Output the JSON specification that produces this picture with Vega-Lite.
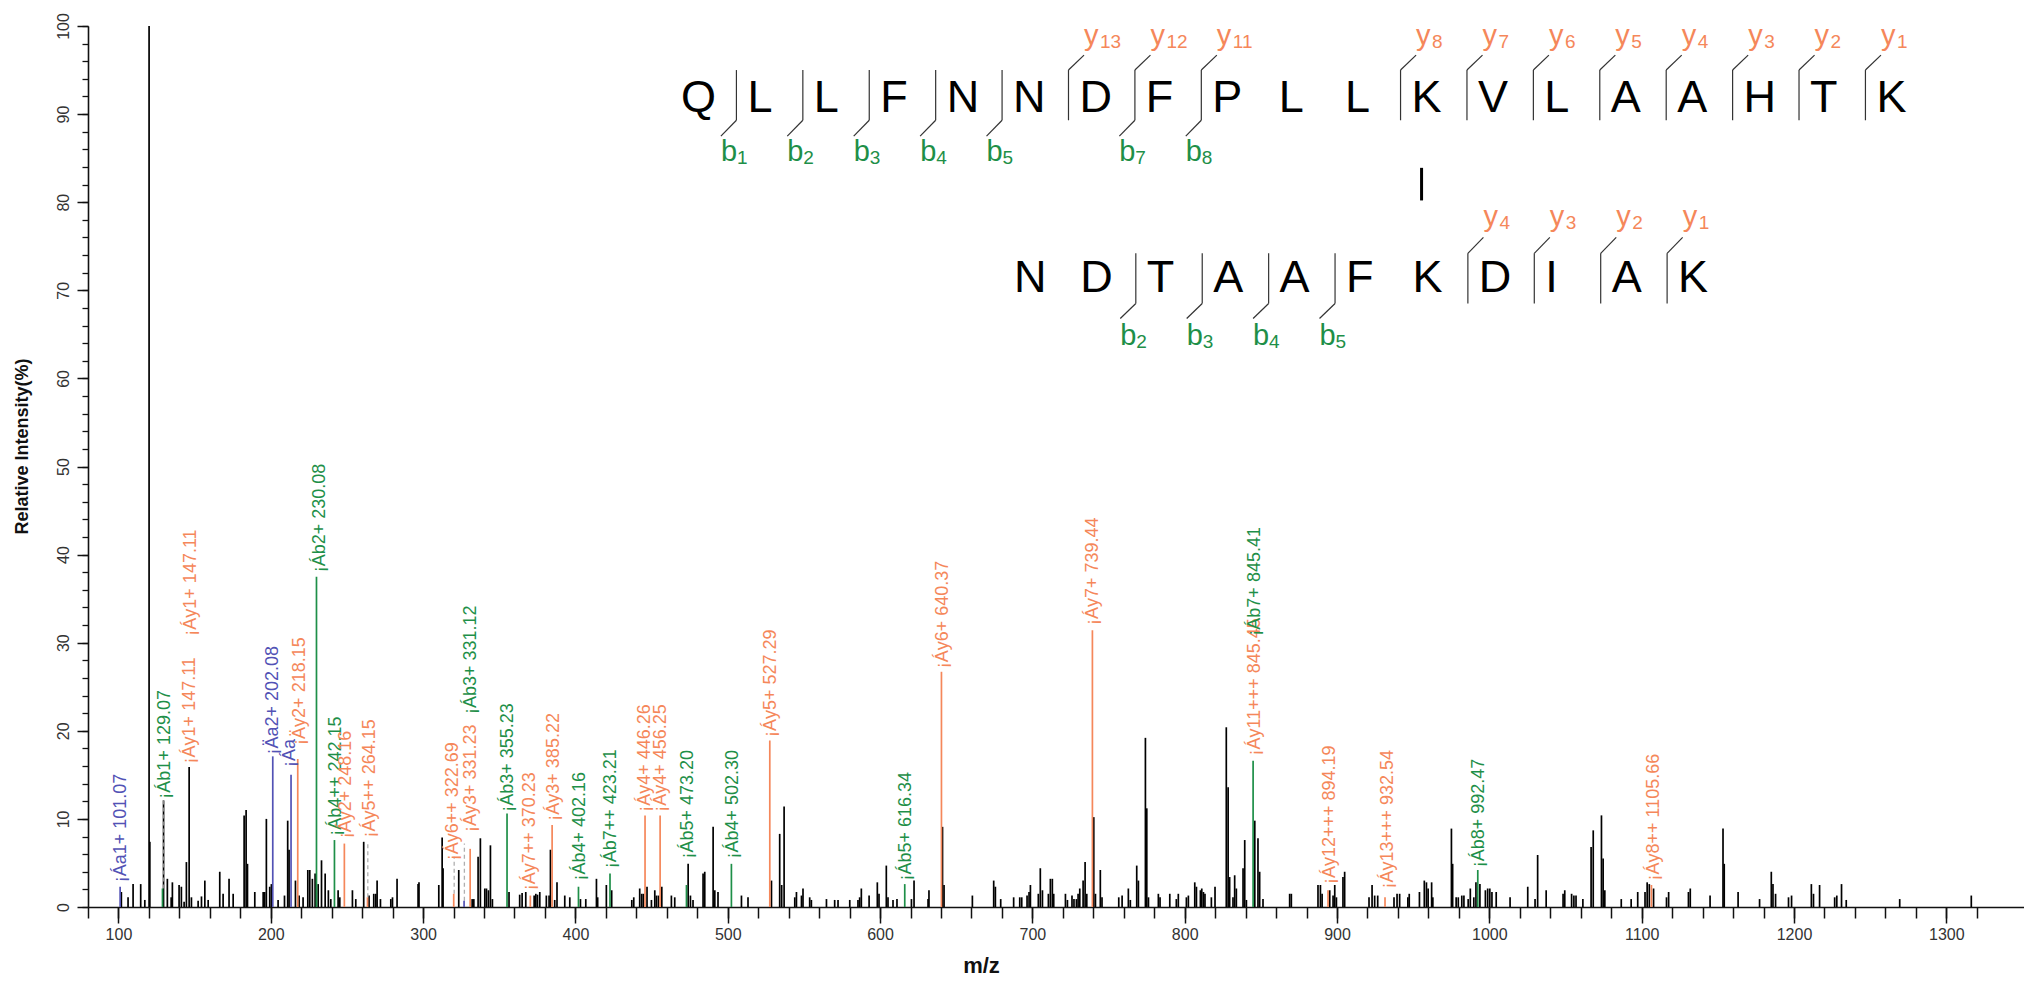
{
  "$schema": "https://vega.github.io/schema/vega-lite/v6.json",
  "width": 1936,
  "height": 881,
  "autosize": {"type": "none"},
  "padding": {"left": 88, "top": 26, "right": 0, "bottom": 74},
  "background": "white",
  "config": {"view": {"stroke": null}, "font": "Liberation Sans", "axis": {"grid": false}},
  "resolve": {"axis": {"x": "independent", "y": "independent"}},
  "datasets": {
    "peaks": [
      {"mz":101.9,"i":1.7},{"mz":106.3,"i":1.1},{"mz":109.6,"i":2.6},{"mz":114.6,"i":2.6},{"mz":117.3,"i":0.8},{"mz":120.1,"i":100},{"mz":120.6,"i":7.4},{"mz":129.6,"i":12.1},{"mz":132.1,"i":3.2},{"mz":134.6,"i":1.1},{"mz":135.4,"i":2.8},{"mz":139.8,"i":2.5},{"mz":141.3,"i":2.3},{"mz":143.1,"i":0.6},{"mz":144.6,"i":5.1},{"mz":146.4,"i":15.9},{"mz":147.9,"i":1.1},{"mz":152.3,"i":0.7},{"mz":154.5,"i":1.2},{"mz":156.7,"i":3.0},{"mz":158.9,"i":0.8},{"mz":166.5,"i":4.0},{"mz":168.7,"i":1.5},{"mz":172.6,"i":3.2},{"mz":175.3,"i":1.5},{"mz":182.5,"i":10.4},{"mz":183.8,"i":11.0},{"mz":184.7,"i":4.9},{"mz":189.5,"i":1.7},{"mz":195.0,"i":1.7},{"mz":196.0,"i":1.7},{"mz":197.1,"i":10.0},{"mz":199.3,"i":2.3},{"mz":200.4,"i":2.6},{"mz":204.8,"i":0.8},{"mz":209.0,"i":1.3},{"mz":211.1,"i":9.8},{"mz":212.0,"i":6.5},{"mz":216.2,"i":3.0},{"mz":218.6,"i":1.3},{"mz":221.2,"i":1.1},{"mz":224.3,"i":4.2},{"mz":225.6,"i":4.2},{"mz":227.3,"i":3.2},{"mz":229.1,"i":3.8},{"mz":231.1,"i":2.6},{"mz":233.3,"i":5.3},{"mz":235.7,"i":3.8},{"mz":237.8,"i":1.9},{"mz":239.4,"i":0.9},{"mz":244.2,"i":1.9},{"mz":245.3,"i":1.1},{"mz":253.6,"i":1.9},{"mz":255.8,"i":0.9},{"mz":261.0,"i":7.4},{"mz":264.5,"i":1.3},{"mz":267.6,"i":1.5},{"mz":268.9,"i":1.5},{"mz":269.8,"i":3.0},{"mz":272.0,"i":0.9},{"mz":278.8,"i":0.9},{"mz":279.9,"i":1.1},{"mz":282.9,"i":3.2},{"mz":296.7,"i":2.6},{"mz":297.3,"i":2.8},{"mz":310.3,"i":2.5},{"mz":312.5,"i":7.9},{"mz":313.1,"i":4.4},{"mz":323.4,"i":4.2},{"mz":332.2,"i":0.9},{"mz":333.3,"i":0.9},{"mz":336.1,"i":5.7},{"mz":337.6,"i":7.8},{"mz":340.5,"i":2.1},{"mz":341.6,"i":2.1},{"mz":342.9,"i":1.9},{"mz":344.2,"i":7.0},{"mz":345.5,"i":0.9},{"mz":356.4,"i":1.7},{"mz":363.4,"i":1.4},{"mz":365.0,"i":1.6},{"mz":367.4,"i":1.7},{"mz":372.9,"i":1.3},{"mz":374.0,"i":1.5},{"mz":375.1,"i":1.4},{"mz":376.6,"i":1.7},{"mz":380.9,"i":1.3},{"mz":382.7,"i":1.3},{"mz":383.6,"i":6.5},{"mz":386.4,"i":0.8},{"mz":387.9,"i":2.8},{"mz":393.0,"i":1.3},{"mz":396.3,"i":1.1},{"mz":403.3,"i":0.9},{"mz":406.8,"i":0.9},{"mz":413.8,"i":3.2},{"mz":414.6,"i":1.1},{"mz":420.3,"i":2.5},{"mz":423.8,"i":1.9},{"mz":437.0,"i":0.8},{"mz":438.3,"i":1.1},{"mz":442.2,"i":2.1},{"mz":443.5,"i":1.5},{"mz":444.6,"i":1.5},{"mz":447.0,"i":2.3},{"mz":449.9,"i":0.8},{"mz":452.1,"i":1.9},{"mz":453.2,"i":1.3},{"mz":454.5,"i":1.3},{"mz":456.7,"i":2.3},{"mz":463.0,"i":1.3},{"mz":465.2,"i":1.1},{"mz":474.0,"i":4.9},{"mz":475.5,"i":1.3},{"mz":477.2,"i":0.8},{"mz":483.8,"i":3.8},{"mz":484.9,"i":4.0},{"mz":490.4,"i":9.1},{"mz":491.5,"i":1.9},{"mz":493.6,"i":1.7},{"mz":509.0,"i":1.3},{"mz":513.3,"i":1.1},{"mz":528.7,"i":3.0},{"mz":534.1,"i":8.3},{"mz":535.4,"i":2.5},{"mz":537.0,"i":11.4},{"mz":544.0,"i":1.1},{"mz":545.1,"i":1.7},{"mz":548.4,"i":1.3},{"mz":549.4,"i":2.1},{"mz":553.8,"i":1.1},{"mz":554.9,"i":0.8},{"mz":564.8,"i":0.9},{"mz":570.2,"i":0.8},{"mz":572.4,"i":0.8},{"mz":580.1,"i":0.8},{"mz":585.5,"i":0.8},{"mz":586.6,"i":1.1},{"mz":587.7,"i":2.1},{"mz":592.8,"i":1.3},{"mz":598.2,"i":2.8},{"mz":599.3,"i":1.5},{"mz":604.1,"i":4.7},{"mz":605.2,"i":1.1},{"mz":608.5,"i":0.8},{"mz":611.1,"i":0.9},{"mz":620.6,"i":0.9},{"mz":622.3,"i":3.0},{"mz":631.5,"i":0.9},{"mz":632.1,"i":1.9},{"mz":641.0,"i":9.1},{"mz":642.0,"i":2.5},
      {"mz":660.6,"i":1.3},{"mz":674.6,"i":3.0},{"mz":675.7,"i":2.3},{"mz":679.2,"i":0.9},{"mz":687.7,"i":1.1},{"mz":691.7,"i":1.1},{"mz":693.0,"i":1.1},{"mz":696.5,"i":1.3},{"mz":697.8,"i":1.7},{"mz":698.7,"i":2.5},{"mz":703.9,"i":1.5},{"mz":705.2,"i":4.4},{"mz":706.6,"i":1.9},{"mz":710.5,"i":1.5},{"mz":711.8,"i":3.2},{"mz":713.1,"i":3.2},{"mz":714.0,"i":1.5},{"mz":721.7,"i":1.5},{"mz":723.0,"i":0.8},{"mz":726.0,"i":1.3},{"mz":727.3,"i":0.9},{"mz":728.9,"i":0.9},{"mz":730.0,"i":1.5},{"mz":731.1,"i":2.1},{"mz":733.3,"i":3.0},{"mz":734.6,"i":5.1},{"mz":735.7,"i":1.5},{"mz":740.3,"i":10.2},{"mz":741.4,"i":1.5},{"mz":744.6,"i":4.2},{"mz":745.7,"i":1.1},{"mz":756.7,"i":1.1},{"mz":758.9,"i":1.3},{"mz":763.0,"i":2.1},{"mz":764.3,"i":0.8},{"mz":768.5,"i":4.7},{"mz":769.6,"i":3.0},{"mz":774.2,"i":19.2},{"mz":775.1,"i":11.2},{"mz":776.2,"i":1.1},{"mz":782.7,"i":1.5},{"mz":783.8,"i":1.1},{"mz":790.2,"i":1.5},{"mz":794.5,"i":0.9},{"mz":795.8,"i":1.5},{"mz":801.1,"i":1.1},{"mz":802.4,"i":1.3},{"mz":806.6,"i":2.8},{"mz":807.7,"i":2.3},{"mz":810.3,"i":1.9},{"mz":811.2,"i":2.1},{"mz":812.3,"i":1.7},{"mz":813.3,"i":1.5},{"mz":817.5,"i":1.1},{"mz":819.9,"i":2.3},{"mz":827.3,"i":20.4},{"mz":828.5,"i":13.6},{"mz":829.5,"i":3.4},{"mz":831.7,"i":1.1},{"mz":832.8,"i":3.6},{"mz":833.9,"i":2.1},{"mz":838.3,"i":4.4},{"mz":839.4,"i":7.6},{"mz":840.5,"i":0.8},{"mz":846.0,"i":9.8},{"mz":848.1,"i":7.8},{"mz":849.2,"i":4.0},{"mz":851.4,"i":0.9},{"mz":868.9,"i":1.5},{"mz":870.0,"i":1.5},{"mz":887.5,"i":2.5},{"mz":889.1,"i":2.5},{"mz":890.2,"i":1.5},{"mz":895.2,"i":1.9},{"mz":897.4,"i":1.3},{"mz":898.5,"i":2.5},{"mz":899.6,"i":1.1},{"mz":903.9,"i":3.4},{"mz":905.0,"i":4.0},
      {"mz":921.0,"i":1.1},{"mz":923.0,"i":2.5},{"mz":924.7,"i":1.3},{"mz":926.7,"i":1.3},{"mz":937.4,"i":1.1},{"mz":939.4,"i":1.5},{"mz":941.1,"i":1.5},{"mz":946.5,"i":1.1},{"mz":947.4,"i":1.5},{"mz":954.1,"i":1.7},{"mz":957.3,"i":3.0},{"mz":958.7,"i":2.8},{"mz":959.8,"i":2.1},{"mz":962.1,"i":2.8},{"mz":962.9,"i":1.1},{"mz":975.1,"i":8.9},{"mz":975.9,"i":4.9},{"mz":978.2,"i":1.1},{"mz":979.6,"i":1.1},{"mz":981.9,"i":1.3},{"mz":983.3,"i":1.3},{"mz":986.1,"i":0.9},{"mz":987.5,"i":2.1},{"mz":989.8,"i":1.1},{"mz":991.2,"i":2.8},{"mz":993.8,"i":2.6},{"mz":997.4,"i":1.9},{"mz":998.9,"i":2.1},{"mz":1000.3,"i":2.1},{"mz":1001.7,"i":1.7},{"mz":1004.5,"i":1.7},{"mz":1013.6,"i":1.1},{"mz":1025.2,"i":2.3},{"mz":1030.0,"i":0.9},{"mz":1031.7,"i":5.9},{"mz":1037.3,"i":1.9},{"mz":1048.4,"i":1.5},{"mz":1049.5,"i":1.9},{"mz":1054.0,"i":1.5},{"mz":1055.5,"i":1.3},{"mz":1056.9,"i":1.3},{"mz":1061.4,"i":0.9},{"mz":1066.8,"i":6.8},{"mz":1068.2,"i":8.7},{"mz":1073.6,"i":10.4},{"mz":1074.7,"i":5.5},{"mz":1075.8,"i":1.9},{"mz":1086.6,"i":0.9},{"mz":1093.1,"i":0.9},{"mz":1097.4,"i":1.7},{"mz":1102.2,"i":1.7},{"mz":1103.6,"i":2.8},{"mz":1105.0,"i":2.6},{"mz":1107.8,"i":2.1},{"mz":1116.3,"i":1.1},{"mz":1117.7,"i":1.7},{"mz":1130.7,"i":1.7},{"mz":1131.9,"i":2.1},{"mz":1144.9,"i":1.3},{"mz":1153.4,"i":8.9},{"mz":1154.2,"i":4.9},{"mz":1163.3,"i":1.7},{"mz":1177.4,"i":0.9},{"mz":1185.1,"i":4.0},{"mz":1186.2,"i":2.6},{"mz":1187.9,"i":1.5},{"mz":1196.4,"i":1.1},{"mz":1198.4,"i":1.3},{"mz":1211.4,"i":2.6},{"mz":1212.8,"i":1.5},{"mz":1216.8,"i":2.5},{"mz":1226.7,"i":1.1},{"mz":1228.1,"i":1.3},{"mz":1231.2,"i":2.6},{"mz":1234.3,"i":0.8},{"mz":1269.4,"i":0.9},{"mz":1316.4,"i":1.3}
    ],
    "ions": [
      {"mz":101.1,"i":2.3,"ion":"a"},{"mz":201.3,"i":17.1,"ion":"a"},{"mz":213.3,"i":15.0,"ion":"a"},{"mz":326.9,"i":0.7,"ion":"a"},
      {"mz":128.9,"i":2.1,"ion":"b"},{"mz":230.0,"i":37.5,"ion":"b"},{"mz":241.8,"i":7.6,"ion":"b"},{"mz":355.1,"i":10.6,"ion":"b"},{"mz":402.0,"i":2.3,"ion":"b"},{"mz":422.7,"i":3.8,"ion":"b"},{"mz":472.9,"i":2.5,"ion":"b"},{"mz":502.4,"i":4.9,"ion":"b"},{"mz":616.2,"i":2.6,"ion":"b"},{"mz":844.9,"i":16.6,"ion":"b"},{"mz":992.4,"i":4.2,"ion":"b"},
      {"mz":217.7,"i":16.8,"ion":"y"},{"mz":248.3,"i":7.2,"ion":"y"},{"mz":263.5,"i":1.1,"ion":"y"},{"mz":320.1,"i":1.5,"ion":"y"},{"mz":330.9,"i":6.6,"ion":"y"},{"mz":370.4,"i":1.3,"ion":"y"},{"mz":384.7,"i":9.3,"ion":"y"},{"mz":445.7,"i":10.4,"ion":"y"},{"mz":455.6,"i":10.4,"ion":"y"},{"mz":527.6,"i":18.9,"ion":"y"},{"mz":640.3,"i":26.7,"ion":"y"},{"mz":739.4,"i":31.4,"ion":"y"},{"mz":894.1,"i":1.9,"ion":"y"},{"mz":931.5,"i":1.1,"ion":"y"},{"mz":1106.4,"i":2.5,"ion":"y"}
    ],
    "dashed": [
      {"mz":129.3,"lo":2.1,"hi":12.1},{"mz":263.7,"lo":1.1,"hi":7.4},{"mz":320.4,"lo":1.5,"hi":5.7},{"mz":327.1,"lo":0.7,"hi":7.2}
    ],
    "labels": [
      {"mz":101.9,"y":2.8,"ion":"a","t":"¡Áa1+ 101.07"},
      {"mz":130.4,"y":12.3,"ion":"b","t":"¡Áb1+ 129.07"},
      {"mz":146.8,"y":16.3,"ion":"y","t":"¡Áy1+ 147.11"},
      {"mz":147.9,"y":30.8,"ion":"y","t":"¡Áy1+ 147.11"},
      {"mz":201.5,"y":17.3,"ion":"a","t":"¡Äa2+ 202.08"},
      {"mz":212.5,"y":15.9,"ion":"a","t":"¡Áa"},
      {"mz":219.0,"y":18.4,"ion":"y","t":"¡Äy2+ 218.15"},
      {"mz":232.2,"y":38.0,"ion":"b","t":"¡Áb2+ 230.08"},
      {"mz":243.1,"y":8.1,"ion":"b","t":"¡Áb4++ 242.15"},
      {"mz":249.7,"y":7.8,"ion":"y","t":"¡Áy2+ 248.16"},
      {"mz":265.0,"y":7.9,"ion":"y","t":"¡Áy5++ 264.15"},
      {"mz":319.7,"y":5.3,"ion":"y","t":"¡Áy6++ 322.69"},
      {"mz":331.7,"y":8.5,"ion":"y","t":"¡Áy3+ 331.23"},
      {"mz":331.7,"y":21.9,"ion":"b","t":"¡Áb3+ 331.12"},
      {"mz":355.8,"y":10.8,"ion":"b","t":"¡Áb3+ 355.23"},
      {"mz":370.0,"y":1.9,"ion":"y","t":"¡Áy7++ 370.23"},
      {"mz":385.8,"y":9.8,"ion":"y","t":"¡Áy3+ 385.22"},
      {"mz":402.8,"y":3.0,"ion":"b","t":"¡Áb4+ 402.16"},
      {"mz":423.6,"y":4.4,"ion":"b","t":"¡Áb7++ 423.21"},
      {"mz":445.5,"y":10.8,"ion":"y","t":"¡Áy4+ 446.26"},
      {"mz":456.4,"y":10.8,"ion":"y","t":"¡Áy4+ 456.25"},
      {"mz":474.0,"y":5.5,"ion":"b","t":"¡Áb5+ 473.20"},
      {"mz":503.5,"y":5.5,"ion":"b","t":"¡Áb4+ 502.30"},
      {"mz":528.7,"y":19.3,"ion":"y","t":"¡Áy5+ 527.29"},
      {"mz":617.3,"y":3.0,"ion":"b","t":"¡Áb5+ 616.34"},
      {"mz":641.3,"y":27.1,"ion":"y","t":"¡Áy6+ 640.37"},
      {"mz":739.8,"y":32.0,"ion":"y","t":"¡Áy7+ 739.44"},
      {"mz":845.9,"y":17.2,"ion":"y","t":"¡Áy11+++ 845.45"},
      {"mz":845.9,"y":30.8,"ion":"b","t":"¡Áb7+ 845.41"},
      {"mz":895.2,"y":2.6,"ion":"y","t":"¡Áy12+++ 894.19"},
      {"mz":933.5,"y":2.1,"ion":"y","t":"¡Áy13+++ 932.54"},
      {"mz":993.2,"y":4.5,"ion":"b","t":"¡Áb8+ 992.47"},
      {"mz":1107.8,"y":3.0,"ion":"y","t":"¡Áy8++ 1105.66"}
    ],
    "letters": [
      {"x":469.3,"y":90.2,"c":"Q"},{"x":512.9,"y":90.2,"c":"L"},{"x":556.5,"y":90.2,"c":"L"},{"x":600.1,"y":90.2,"c":"F"},{"x":643.7,"y":90.2,"c":"N"},{"x":687.3,"y":90.2,"c":"N"},{"x":730.9,"y":90.2,"c":"D"},{"x":774.5,"y":90.2,"c":"F"},{"x":818.1,"y":90.2,"c":"P"},{"x":861.7,"y":90.2,"c":"L"},{"x":905.3,"y":90.2,"c":"L"},{"x":948.9,"y":90.2,"c":"K"},{"x":992.5,"y":90.2,"c":"V"},{"x":1036.1,"y":90.2,"c":"L"},{"x":1079.7,"y":90.2,"c":"A"},{"x":1123.3,"y":90.2,"c":"A"},{"x":1166.9,"y":90.2,"c":"H"},{"x":1210.5,"y":90.2,"c":"T"},{"x":1254.1,"y":90.2,"c":"K"},
      {"x":687.9,"y":69.8,"c":"N"},{"x":731.5,"y":69.8,"c":"D"},{"x":775.1,"y":69.8,"c":"T"},{"x":818.7,"y":69.8,"c":"A"},{"x":862.3,"y":69.8,"c":"A"},{"x":905.9,"y":69.8,"c":"F"},{"x":949.5,"y":69.8,"c":"K"},{"x":993.1,"y":69.8,"c":"D"},{"x":1036.7,"y":69.8,"c":"I"},{"x":1080.3,"y":69.8,"c":"A"},{"x":1123.9,"y":69.8,"c":"K"}
    ],
    "cuts": [
      {"x":505.7,"y":89.3,"x2":505.7,"y2":95.0},{"x":549.3,"y":89.3,"x2":549.3,"y2":95.0},{"x":592.9,"y":89.3,"x2":592.9,"y2":95.0},{"x":636.5,"y":89.3,"x2":636.5,"y2":95.0},{"x":680.1,"y":89.3,"x2":680.1,"y2":95.0},{"x":723.7,"y":89.3,"x2":723.7,"y2":95.0},{"x":767.3,"y":89.3,"x2":767.3,"y2":95.0},{"x":810.9,"y":89.3,"x2":810.9,"y2":95.0},{"x":941.7,"y":89.3,"x2":941.7,"y2":95.0},{"x":985.3,"y":89.3,"x2":985.3,"y2":95.0},{"x":1028.9,"y":89.3,"x2":1028.9,"y2":95.0},{"x":1072.5,"y":89.3,"x2":1072.5,"y2":95.0},{"x":1116.1,"y":89.3,"x2":1116.1,"y2":95.0},{"x":1159.7,"y":89.3,"x2":1159.7,"y2":95.0},{"x":1203.3,"y":89.3,"x2":1203.3,"y2":95.0},{"x":1246.9,"y":89.3,"x2":1246.9,"y2":95.0},
      {"x":505.7,"y":89.3,"x2":495.5,"y2":87.5},{"x":549.3,"y":89.3,"x2":539.1,"y2":87.5},{"x":592.9,"y":89.3,"x2":582.7,"y2":87.5},{"x":636.5,"y":89.3,"x2":626.3,"y2":87.5},{"x":680.1,"y":89.3,"x2":669.9,"y2":87.5},{"x":767.3,"y":89.3,"x2":757.1,"y2":87.5},{"x":810.9,"y":89.3,"x2":800.7,"y2":87.5},
      {"x":723.7,"y":95.0,"x2":733.9,"y2":96.7},{"x":767.3,"y":95.0,"x2":777.5,"y2":96.7},{"x":810.9,"y":95.0,"x2":821.1,"y2":96.7},{"x":941.7,"y":95.0,"x2":951.9,"y2":96.7},{"x":985.3,"y":95.0,"x2":995.5,"y2":96.7},{"x":1028.9,"y":95.0,"x2":1039.1,"y2":96.7},{"x":1072.5,"y":95.0,"x2":1082.7,"y2":96.7},{"x":1116.1,"y":95.0,"x2":1126.3,"y2":96.7},{"x":1159.7,"y":95.0,"x2":1169.9,"y2":96.7},{"x":1203.3,"y":95.0,"x2":1213.5,"y2":96.7},{"x":1246.9,"y":95.0,"x2":1257.1,"y2":96.7},
      {"x":767.9,"y":68.5,"x2":767.9,"y2":74.2},{"x":811.5,"y":68.5,"x2":811.5,"y2":74.2},{"x":855.1,"y":68.5,"x2":855.1,"y2":74.2},{"x":898.7,"y":68.5,"x2":898.7,"y2":74.2},{"x":985.9,"y":68.5,"x2":985.9,"y2":74.2},{"x":1029.5,"y":68.5,"x2":1029.5,"y2":74.2},{"x":1073.1,"y":68.5,"x2":1073.1,"y2":74.2},{"x":1116.7,"y":68.5,"x2":1116.7,"y2":74.2},
      {"x":767.9,"y":68.5,"x2":757.7,"y2":66.8},{"x":811.5,"y":68.5,"x2":801.3,"y2":66.8},{"x":855.1,"y":68.5,"x2":844.9,"y2":66.8},{"x":898.7,"y":68.5,"x2":888.5,"y2":66.8},
      {"x":985.9,"y":74.2,"x2":996.1,"y2":76.0},{"x":1029.5,"y":74.2,"x2":1039.7,"y2":76.0},{"x":1073.1,"y":74.2,"x2":1083.3,"y2":76.0},{"x":1116.7,"y":74.2,"x2":1126.9,"y2":76.0}
    ],
    "link": [{"x":955.5,"y":80.2,"y2":83.9}],
    "frags": [
      {"x":495.5,"y":84.7,"ion":"b","n":"1"},{"x":539.1,"y":84.7,"ion":"b","n":"2"},{"x":582.7,"y":84.7,"ion":"b","n":"3"},{"x":626.3,"y":84.7,"ion":"b","n":"4"},{"x":669.9,"y":84.7,"ion":"b","n":"5"},{"x":757.1,"y":84.7,"ion":"b","n":"7"},{"x":800.7,"y":84.7,"ion":"b","n":"8"},
      {"x":733.9,"y":97.8,"ion":"y","n":"13"},{"x":777.5,"y":97.8,"ion":"y","n":"12"},{"x":821.1,"y":97.8,"ion":"y","n":"11"},{"x":951.9,"y":97.8,"ion":"y","n":"8"},{"x":995.5,"y":97.8,"ion":"y","n":"7"},{"x":1039.1,"y":97.8,"ion":"y","n":"6"},{"x":1082.7,"y":97.8,"ion":"y","n":"5"},{"x":1126.3,"y":97.8,"ion":"y","n":"4"},{"x":1169.9,"y":97.8,"ion":"y","n":"3"},{"x":1213.5,"y":97.8,"ion":"y","n":"2"},{"x":1257.1,"y":97.8,"ion":"y","n":"1"},
      {"x":757.7,"y":63.8,"ion":"b","n":"2"},{"x":801.3,"y":63.8,"ion":"b","n":"3"},{"x":844.9,"y":63.8,"ion":"b","n":"4"},{"x":888.5,"y":63.8,"ion":"b","n":"5"},
      {"x":996.1,"y":77.3,"ion":"y","n":"4"},{"x":1039.7,"y":77.3,"ion":"y","n":"3"},{"x":1083.3,"y":77.3,"ion":"y","n":"2"},{"x":1126.9,"y":77.3,"ion":"y","n":"1"}
    ]
  },
  "layer": [
    {
      "data": {"name": "peaks"},
      "mark": {"type": "rule", "color": "#000000", "strokeWidth": 1.7},
      "encoding": {
        "x": {"field": "mz", "type": "quantitative", "scale": {"domain": [80, 1351], "nice": false, "zero": false},
          "axis": {"orient": "bottom", "values": [100,200,300,400,500,600,700,800,900,1000,1100,1200,1300], "format": "d", "tickSize": 16, "tickWidth": 1.5, "tickColor": "#111", "domainColor": "#111", "domainWidth": 1.6, "labelFont": "Liberation Sans", "labelFontSize": 16, "labelColor": "#333", "labelPadding": 3, "labelOverlap": false, "labelFlush": false, "title": "m/z", "titleFont": "Liberation Sans", "titleFontSize": 22, "titleFontWeight": "bold", "titleColor": "#111", "titleX": 893, "titleY": 58, "titleAlign": "center", "titleBaseline": "middle"}},
        "y": {"field": "i", "type": "quantitative", "scale": {"domain": [0, 100], "nice": false},
          "axis": {"orient": "left", "values": [0,10,20,30,40,50,60,70,80,90,100], "tickSize": 11, "tickWidth": 1.5, "tickColor": "#111", "domainColor": "#111", "domainWidth": 1.6, "labelFont": "Liberation Sans", "labelFontSize": 16, "labelColor": "#333", "labelAngle": 270, "labelAlign": "center", "labelBaseline": "bottom", "labelPadding": 6, "labelOverlap": false, "labelFlush": false, "title": "Relative  Intensity(%)", "titleFont": "Liberation Sans", "titleFontSize": 18, "titleFontWeight": "bold", "titleColor": "#111", "titleAngle": 270, "titleX": -66, "titleY": 420, "titleAlign": "center", "titleBaseline": "middle"}},
        "y2": {"datum": 0}
      }
    },
    {
      "data": {"name": "dashed"},
      "mark": {"type": "rule", "color": "#b0b0b0", "strokeWidth": 1.3, "strokeDash": [4, 3]},
      "encoding": {
        "x": {"field": "mz", "type": "quantitative", "scale": {"domain": [80, 1351], "nice": false, "zero": false}, "axis": null},
        "y": {"field": "lo", "type": "quantitative", "scale": {"domain": [0, 100], "nice": false}, "axis": null},
        "y2": {"field": "hi"}
      }
    },
    {
      "data": {"name": "ions"},
      "mark": {"type": "rule", "strokeWidth": 1.7},
      "encoding": {
        "x": {"field": "mz", "type": "quantitative", "scale": {"domain": [80, 1351], "nice": false, "zero": false}, "axis": null},
        "y": {"field": "i", "type": "quantitative", "scale": {"domain": [0, 100], "nice": false}, "axis": null},
        "y2": {"datum": 0},
        "color": {"field": "ion", "type": "nominal", "scale": {"domain": ["a", "b", "y"], "range": ["#5252b5", "#1e8f48", "#f5875a"]}, "legend": null}
      }
    },
    {
      "data": {"name": "labels"},
      "mark": {"type": "text", "angle": 270, "align": "left", "baseline": "middle", "font": "Liberation Sans", "fontSize": 18},
      "encoding": {
        "x": {"field": "mz", "type": "quantitative", "scale": {"domain": [80, 1351], "nice": false, "zero": false},
          "axis": {"orient": "bottom", "values": [80,100,120,140,160,180,200,220,240,260,280,300,320,340,360,380,400,420,440,460,480,500,520,540,560,580,600,620,640,660,680,700,720,740,760,780,800,820,840,860,880,900,920,940,960,980,1000,1020,1040,1060,1080,1100,1120,1140,1160,1180,1200,1220,1240,1260,1280,1300,1320], "tickSize": 11, "tickWidth": 1.5, "tickColor": "#111", "labels": false, "domain": false, "title": null}},
        "y": {"field": "y", "type": "quantitative", "scale": {"domain": [0, 100], "nice": false},
          "axis": {"orient": "left", "values": [0,2,4,6,8,10,12,14,16,18,20,22,24,26,28,30,32,34,36,38,40,42,44,46,48,50,52,54,56,58,60,62,64,66,68,70,72,74,76,78,80,82,84,86,88,90,92,94,96,98,100], "tickSize": 6, "tickWidth": 1.3, "tickColor": "#111", "labels": false, "domain": false, "title": null}},
        "text": {"field": "t"},
        "color": {"field": "ion", "type": "nominal", "scale": {"domain": ["a", "b", "y"], "range": ["#5252b5", "#1e8f48", "#f5875a"]}, "legend": null}
      }
    },
    {
      "data": {"name": "cuts"},
      "mark": {"type": "rule", "color": "#333333", "strokeWidth": 1.2},
      "encoding": {
        "x": {"field": "x", "type": "quantitative", "scale": {"domain": [80, 1351], "nice": false, "zero": false}, "axis": null},
        "y": {"field": "y", "type": "quantitative", "scale": {"domain": [0, 100], "nice": false}, "axis": null},
        "x2": {"field": "x2"},
        "y2": {"field": "y2"}
      }
    },
    {
      "data": {"name": "link"},
      "mark": {"type": "rule", "color": "#000000", "strokeWidth": 3},
      "encoding": {
        "x": {"field": "x", "type": "quantitative", "scale": {"domain": [80, 1351], "nice": false, "zero": false}, "axis": null},
        "y": {"field": "y", "type": "quantitative", "scale": {"domain": [0, 100], "nice": false}, "axis": null},
        "y2": {"field": "y2"}
      }
    },
    {
      "data": {"name": "letters"},
      "mark": {"type": "text", "align": "left", "baseline": "alphabetic", "font": "Liberation Sans", "fontSize": 45, "color": "#000000"},
      "encoding": {
        "x": {"field": "x", "type": "quantitative", "scale": {"domain": [80, 1351], "nice": false, "zero": false}, "axis": null},
        "y": {"field": "y", "type": "quantitative", "scale": {"domain": [0, 100], "nice": false}, "axis": null},
        "text": {"field": "c"}
      }
    },
    {
      "data": {"name": "frags"},
      "mark": {"type": "text", "align": "left", "baseline": "alphabetic", "font": "Liberation Sans", "fontSize": 29},
      "encoding": {
        "x": {"field": "x", "type": "quantitative", "scale": {"domain": [80, 1351], "nice": false, "zero": false}, "axis": null},
        "y": {"field": "y", "type": "quantitative", "scale": {"domain": [0, 100], "nice": false}, "axis": null},
        "text": {"field": "ion"},
        "color": {"field": "ion", "type": "nominal", "scale": {"domain": ["a", "b", "y"], "range": ["#5252b5", "#1e8f48", "#f5875a"]}, "legend": null}
      }
    },
    {
      "data": {"name": "frags"},
      "mark": {"type": "text", "align": "left", "baseline": "alphabetic", "font": "Liberation Sans", "fontSize": 19, "dx": 16, "dy": 3},
      "encoding": {
        "x": {"field": "x", "type": "quantitative", "scale": {"domain": [80, 1351], "nice": false, "zero": false}, "axis": null},
        "y": {"field": "y", "type": "quantitative", "scale": {"domain": [0, 100], "nice": false}, "axis": null},
        "text": {"field": "n"},
        "color": {"field": "ion", "type": "nominal", "scale": {"domain": ["a", "b", "y"], "range": ["#5252b5", "#1e8f48", "#f5875a"]}, "legend": null}
      }
    }
  ]
}
